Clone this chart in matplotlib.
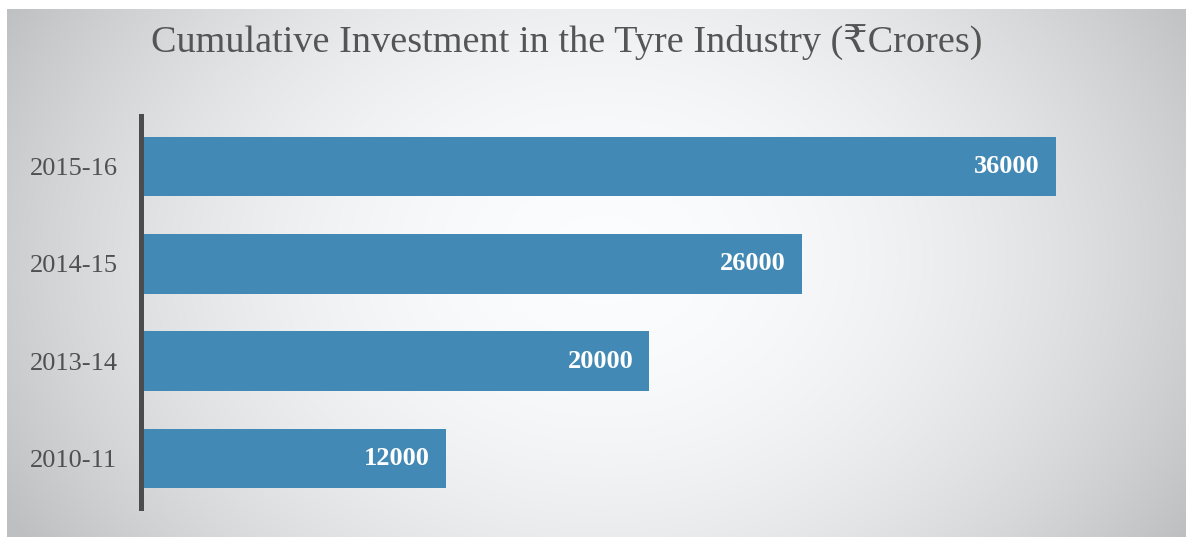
import numpy as np
import matplotlib.pyplot as plt

# cumulative investment, crores of rupees
years = ["2010-11", "2013-14", "2014-15", "2015-16"]
investment = [12000, 20000, 26000, 36000]

W, H = 1186, 537
serif = ["Liberation Serif", "DejaVu Serif", "DejaVu Sans"]

fig = plt.figure(figsize=(W / 100, H / 100), dpi=100)
fig.patch.set_facecolor("white")

# grey panel with a soft radial highlight in the middle
bg = fig.add_axes([7 / W, 0, 1 - 7 / W, 1 - 9 / H])
yy, xx = np.mgrid[0:528, 0:1179]
r2 = ((xx - 595) / 650) ** 2 + ((yy - 250) / 500) ** 2
shade = np.clip(1.0 - 0.22 * r2, 0.76, 1.0)
rgb = np.dstack([shade * 0.985, shade * 0.99, shade * 0.995])
bg.imshow(rgb, aspect="auto", interpolation="bilinear")
bg.axis("off")

# bar area: zero at x=141, axis line from y=116 to 508
ax = fig.add_axes([141 / W, 1 - 508 / H, (1186 - 141) / W, (508 - 116) / H])
ax.patch.set_alpha(0)
pos = np.arange(len(years))
bars = ax.barh(pos, investment, height=0.61, color="#4389b5", zorder=2)
ax.set_xlim(0, 36000 * (1186 - 141) / (1056 - 141))
ax.set_ylim(-0.51, 3.52)

for b, v in zip(bars, investment):
    ax.text(v - 630, b.get_y() + b.get_height() / 2, f"{v}", ha="right", va="center",
            color="white", fontsize=19, fontweight="bold", family=serif)

ax.set_yticks(pos)
ax.set_yticklabels(years, family=serif, fontsize=19, color="#505050")
ax.tick_params(axis="y", length=0, pad=17)
ax.set_xticks([])
for s in ["top", "right", "bottom"]:
    ax.spines[s].set_visible(False)
ax.spines["left"].set_color("#4a4c4d")
ax.spines["left"].set_linewidth(3.6)

fig.text(567 / W, 1 - 43 / H, "Cumulative Investment in the Tyre Industry (₹Crores)",
         ha="center", va="center", fontsize=27.5, color="#555555", family=serif)

fig.savefig("out.png", dpi=100)
